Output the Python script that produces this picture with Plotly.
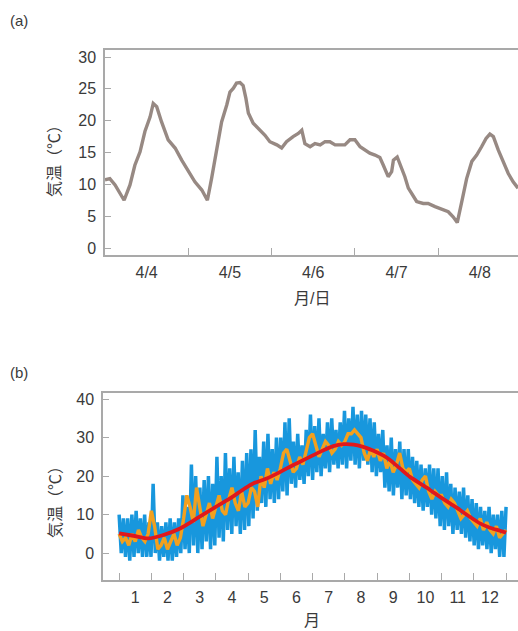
import plotly.graph_objects as go

# ---------- Panel (a): hourly temperature, 4/4 - 4/8 ----------
hours_a = [0, 1.4, 2.9, 4.3, 5.5, 7.2, 8.6, 10.1, 11.5, 13.0, 13.9, 14.9, 16.3, 18.2, 20.2, 22.1,
           24.0, 25.9, 27.9, 29.5, 30.7, 32.2, 33.6, 35.1, 36.0, 37.0, 37.9, 38.9, 39.8, 40.6, 41.3,
           42.7, 44.7, 46.1, 47.5, 49.5, 50.9, 52.3, 54.2, 55.7, 56.7, 57.6, 59.1, 60.5, 62.0, 63.4,
           64.8, 66.3, 67.7, 69.1, 70.6, 72.0, 73.5, 74.9, 76.3, 77.8, 79.2, 80.2, 81.6, 82.6, 83.1,
           84.2, 85.5, 86.4, 87.4, 88.4, 89.8, 91.7, 93.1, 95.1, 97.0, 98.9, 100.3, 101.5, 102.8,
           104.2, 105.7, 107.1, 108.5, 109.8, 110.9, 111.9, 113.3, 114.8, 116.2, 117.6, 119.0]
temps_a = [10.7, 10.9, 9.9, 8.6, 7.5, 9.9, 13.0, 15.1, 18.3, 20.6, 22.7, 22.2, 19.8, 17.0, 15.7, 13.8,
           12.0, 10.4, 9.1, 7.5, 10.9, 15.7, 19.8, 22.5, 24.5, 25.1, 25.9, 26.0, 25.5, 23.5, 21.2,
           19.6, 18.5, 17.7, 16.7, 16.2, 15.7, 16.7, 17.5, 18.0, 18.5, 16.4, 15.9, 16.4, 16.2, 16.7,
           16.7, 16.2, 16.2, 16.2, 17.0, 17.0, 15.9, 15.4, 14.9, 14.6, 14.2, 13.0, 11.2, 12.0, 13.8,
           14.3, 12.5, 11.2, 9.4, 8.6, 7.3, 7.0, 7.0, 6.5, 6.1, 5.7, 4.9, 4.0, 7.3,
           10.9, 13.6, 14.6, 15.9, 17.2, 17.9, 17.5, 15.4, 13.6, 11.7, 10.4, 9.4]
day_labels_a = ["4/4", "4/5", "4/6", "4/7", "4/8"]
day_label_pos_a = [12, 36, 60, 84, 108]
day_bounds_a = [24, 48, 72, 96]

# ---------- Panel (b): yearly temperature ----------
# hourly temperatures (every 2 days, alternating high / low readings)
hourly_b = [10, 0, 9, -1, 9, -2, 10, -1, 11, 0, 9, -1, 10, -1, 8,
            -1, 18, 0, 8, -2, 7, -1, 8, -2, 9, -2, 8, -1, 9, 0,
            15, 1, 12, 0, 23, 2, 20, 0, 17, 1, 19, 3, 20, 1, 18,
            2, 25, 4, 20, 3, 26, 6, 22, 5, 25, 7, 21, 5, 24, 6,
            26, 7, 27, 9, 32, 11, 25, 13, 29, 12, 31, 14, 27, 13, 30,
            14, 30, 16, 34, 15, 35, 18, 29, 17, 31, 19, 28, 18, 32, 20,
            36, 19, 33, 21, 35, 20, 31, 22, 34, 21, 35, 23, 32, 22, 34,
            23, 37, 22, 35, 24, 38, 23, 36, 22, 37, 24, 36, 23, 35, 21,
            34, 20, 31, 21, 32, 17, 28, 16, 30, 15, 27, 17, 29, 14, 27,
            15, 27, 14, 25, 13, 24, 12, 23, 11, 22, 12, 23, 10, 22, 9,
            22, 7, 20, 6, 21, 7, 18, 5, 17, 6, 16, 5, 17, 4, 15,
            3, 14, 2, 13, 1, 12, 2, 11, 1, 12, 0, 10, 1, 10, -1, 11, -1, 12]
# daily mean temperatures (every 3 days)
daily_b = [5, 3, 4, 2, 5, 3, 6, 4, 3, 5,
           11, 7, 1, 2, 4, 1, 3, 5, 2, 4,
           9, 15, 12, 8, 17, 12, 7, 10, 13, 9,
           12, 15, 11, 10, 14, 17, 13, 11, 16, 12,
           13, 17, 16, 12, 20, 17, 22, 18, 21, 19,
           22, 26, 27, 24, 21, 22, 25, 23, 27, 30,
           31, 28, 25, 27, 29, 28, 26, 27, 29, 28,
           29, 31, 31, 32, 31, 30, 26, 24, 27, 25,
           27, 24, 26, 22, 24, 21, 23, 26, 22, 21,
           22, 19, 18, 17, 19, 20, 16, 14, 16, 15,
           15, 13, 12, 14, 13, 11, 9, 10, 11, 9,
           8, 7, 9, 6, 8, 6, 5, 7, 4, 5, 6]
# normal (smoothed) temperature
normal_m = [0, 0.44, 0.91, 1.37, 1.89, 2.41, 2.92, 3.44, 3.91, 4.16, 4.58, 5.0, 5.40, 5.82, 6.23,
            6.64, 6.96, 7.27, 7.57, 7.89, 8.20, 8.40, 8.71, 9.02, 9.33, 9.64, 9.95, 10.26, 10.57,
            10.88, 11.19, 11.50, 11.81, 12.0]
normal_b = [5.1, 4.5, 3.8, 4.7, 6.4, 9.0, 11.6, 14.2, 16.9, 18.1, 19.4, 21.1, 22.9, 24.6, 26.3,
            27.8, 28.3, 28.2, 27.6, 26.6, 25.3, 24.2, 22.0, 19.8, 18.1, 16.4, 14.6, 12.9, 11.2,
            9.4, 7.7, 6.6, 5.8, 5.3]
month_labels = [str(i) for i in range(1, 13)]
month_label_pos = [i + 0.5 for i in range(12)]
month_bounds = list(range(13))

hourly_x = [i * 12 / (len(hourly_b) - 1) for i in range(len(hourly_b))]
daily_x = [i * 12 / (len(daily_b) - 1) for i in range(len(daily_b))]

FONT = "Liberation Sans, Noto Sans CJK JP, sans-serif"
TXT = "#3a3a3a"
AX = "#a9a9a9"

fig = go.Figure()
fig.add_trace(go.Scatter(x=hours_a, y=temps_a, mode="lines",
                         line=dict(color="#978983", width=3.4), xaxis="x", yaxis="y",
                         showlegend=False, hoverinfo="skip"))
fig.add_trace(go.Scatter(x=hourly_x, y=hourly_b, mode="lines",
                         line=dict(color="#1897dd", width=3.5), xaxis="x2", yaxis="y2",
                         showlegend=False, hoverinfo="skip"))
fig.add_trace(go.Scatter(x=daily_x, y=daily_b, mode="lines",
                         line=dict(color="#f2a01e", width=3.4), xaxis="x2", yaxis="y2",
                         showlegend=False, hoverinfo="skip"))
fig.add_trace(go.Scatter(x=normal_m, y=normal_b, mode="lines",
                         line=dict(color="#e0181c", width=3.8, shape="spline", smoothing=0.6),
                         xaxis="x2", yaxis="y2", showlegend=False, hoverinfo="skip"))

W, H = 518, 631
ML, MR, MT, MB = 103, 0, 50, 51
PW, PH = W - ML - MR, H - MT - MB


def px(x):
    return (x - ML) / PW


def py(y):
    return (H - MB - y) / PH


common_x = dict(showline=True, linecolor=AX, linewidth=1.5, mirror=True, showgrid=False,
                zeroline=False, ticks="", tickfont=dict(family=FONT, size=16, color=TXT),
                ticklabelstandoff=2, automargin=False)
common_y = dict(showline=True, linecolor=AX, linewidth=1.5, showgrid=False, zeroline=False,
                ticks="inside", ticklen=6, tickcolor=AX, tickwidth=1,
                tickfont=dict(family=FONT, size=16, color=TXT), ticklabelstandoff=4,
                automargin=False)

fig.update_layout(
    width=W, height=H,
    margin=dict(l=ML, r=MR, t=MT, b=MB),
    paper_bgcolor="white", plot_bgcolor="white",
    xaxis=dict(domain=[px(105), 1], range=[0, 119], anchor="y",
               tickmode="array", tickvals=day_label_pos_a, ticktext=day_labels_a,
               minor=dict(tickmode="array", tickvals=day_bounds_a, ticks="inside", ticklen=7,
                          tickcolor=AX, tickwidth=1, showgrid=False),
               **common_x),
    yaxis=dict(domain=[py(255), 1], range=[-1.1, 31.1], anchor="x",
               tickmode="array", tickvals=[0, 5, 10, 15, 20, 25, 30], **common_y),
    xaxis2=dict(domain=[0, 1], range=[-0.5, 12.37], anchor="y2",
                tickmode="array", tickvals=month_label_pos, ticktext=month_labels,
                minor=dict(tickmode="array", tickvals=month_bounds, ticks="inside", ticklen=7,
                           tickcolor=AX, tickwidth=1, showgrid=False),
                **common_x),
    yaxis2=dict(domain=[0, py(393)], range=[-7.0, 41.6], anchor="x2",
                tickmode="array", tickvals=[0, 10, 20, 30, 40], **common_y),
)

ann = [
    dict(text="(a)", x=px(8), y=py(20), xanchor="left", yanchor="middle", size=15),
    dict(text="(b)", x=px(8), y=py(372), xanchor="left", yanchor="middle", size=15),
    dict(text="月/日", x=px(312), y=py(298), xanchor="center", yanchor="middle", size=16),
    dict(text="月", x=px(312), y=py(620), xanchor="center", yanchor="middle", size=16),
]
for a in ann:
    fig.add_annotation(text=a["text"], x=a["x"], y=a["y"], xref="paper", yref="paper",
                       xanchor=a["xanchor"], yanchor=a["yanchor"], showarrow=False,
                       font=dict(family=FONT, size=a["size"], color=TXT))
for yc in (157, 498):
    fig.add_annotation(text="気温（℃）", x=px(55), y=py(yc), xref="paper", yref="paper",
                       xanchor="center", yanchor="middle", textangle=-90, showarrow=False,
                       font=dict(family=FONT, size=16, color=TXT))

fig.write_html("out.html", config={"displayModeBar": False},
               post_script="document.body.style.margin='0';document.body.style.overflow='hidden';")
